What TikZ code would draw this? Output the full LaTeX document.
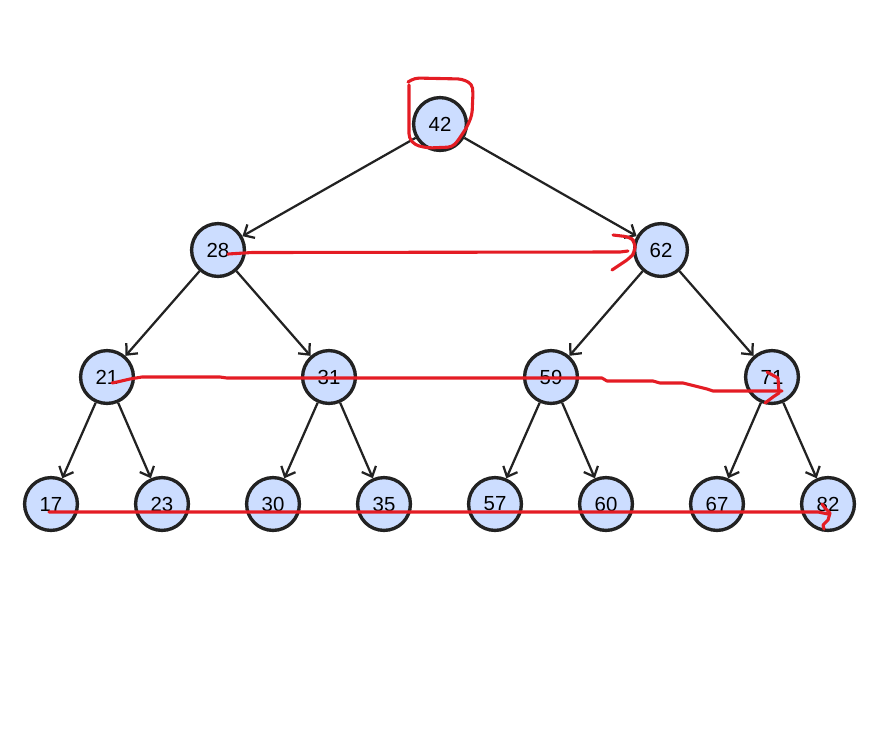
\documentclass[tikz,border=0pt]{standalone}
\usepackage{fontspec}
\setmainfont{Liberation Sans}
\usetikzlibrary{arrows.meta}
\definecolor{keyfill}{RGB}{204,221,255}
\definecolor{keyline}{RGB}{34,34,34}
\definecolor{penred}{RGB}{228,28,36}

\begin{document}
\begin{tikzpicture}[x=0.025cm, y=-0.025cm,
  key/.style={circle, draw=keyline, line width=2.4pt, fill=keyfill,
    minimum size=1.32cm, inner sep=0pt, font=\fontsize{14.5}{16}\selectfont},
  link/.style={draw=keyline, line width=1.6pt, -{Straight Barb[length=6pt,width=11pt]}},
  redpen/.style={penred, line width=2.2pt, line cap=round, line join=round}]
  \useasboundingbox (0,0) rectangle (880,752);
  % levels 1 to 3
  \node[key] (n42) at (440,124) {42};
  \node[key] (n28) at (218,250) {28};
  \node[key] (n62) at (661,250) {62};
  \node[key] (n21) at (107,377) {21};
  \node[key] (n31) at (329,377) {31};
  \node[key] (n59) at (551,377) {59};
  \node[key] (n71) at (772,377) {71};
  % leaves
  \foreach \v/\x in {17/51,23/162,30/273,35/384,57/495,60/606,67/717,82/828}
    \node[key] (n\v) at (\x,504) {\v};
  \foreach \a/\b in {42/28,42/62,28/21,28/31,62/59,62/71,21/17,21/23,31/30,31/35,59/57,59/60,71/67,71/82}
    \draw[link] (n\a) -- (n\b);
  % red pen marks
  \draw[redpen, rounded corners=3pt] (408,82) -- (415,78) -- (462,79) -- (472,84) -- (473,92)
    -- (472,115) -- (467,127) -- (457,142) -- (452,147) -- (428,148) -- (415,145)
    -- (409,138) -- (409,85);
  \draw[redpen] (228,254) -- (252,252.5) -- (620,252) -- (628,251);
  \draw[redpen, rounded corners=4pt] (613,235) -- (630,237) -- (635,242) -- (635,252)
    -- (630,258) -- (612,270);
  \draw[redpen] (112,383) -- (117,382) -- (130,379) -- (142,377) -- (220,377)
    -- (227,378) -- (602,378) -- (607,381) -- (653,381) -- (660,383) -- (683,383)
    -- (707,389) -- (713,391) -- (782,391);
  \draw[redpen] (767,372) -- (778,378) -- (779,393) -- (773,397) -- (765,403);
  \draw[redpen] (49,512) -- (818,512) -- (828,514);
  \draw[redpen] (822,504) -- (825,508) -- (830,513) -- (828,520) -- (823,525) -- (824,529);
\end{tikzpicture}
\end{document}
